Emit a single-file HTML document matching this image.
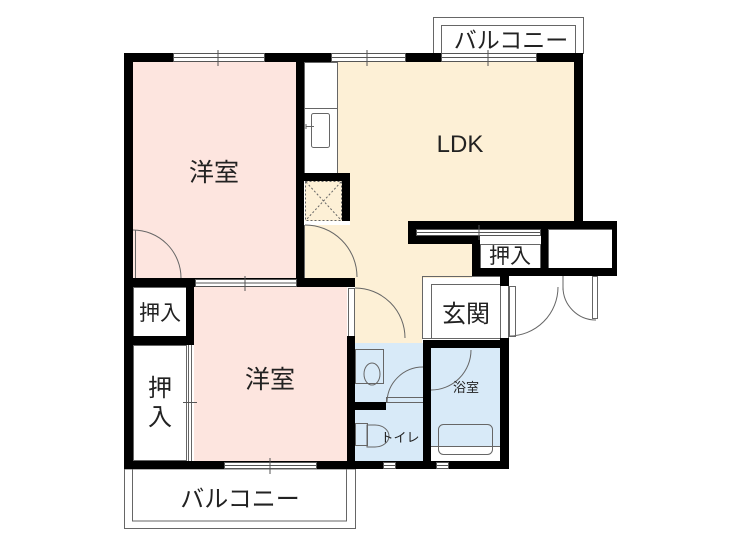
<!DOCTYPE html>
<html><head><meta charset="utf-8"><style>
body{margin:0;background:#fff}
svg{display:block}
text{font-family:"Liberation Sans","Noto Sans CJK JP",sans-serif;fill:#222}
</style></head><body>
<svg width="750" height="550" viewBox="0 0 750 550" xmlns="http://www.w3.org/2000/svg">
<polygon points="338,62 574,62 574,221 408,221 408,244 472,244 472,278 422,278 422,343 355,343 355,287 304,287 304,225 350,225 350,174 338,174" fill="#fdf0d6"/>
<rect x="133" y="62" width="163" height="216" fill="#fde5df"/>
<rect x="194" y="287" width="153" height="174" fill="#fde5df"/>
<rect x="355" y="343" width="68" height="118" fill="#d8eaf8"/>
<rect x="431" y="348" width="69" height="98" fill="#d8eaf8"/>
<rect x="305" y="181" width="37" height="40" fill="#fdf0d6"/>
<rect x="433.5" y="17.5" width="150" height="36" fill="none" stroke="#666"/>
<rect x="441.5" y="25.5" width="134" height="28" fill="none" stroke="#666"/>
<rect x="124.5" y="469" width="231" height="59.5" fill="none" stroke="#666"/>
<rect x="132.5" y="469" width="214" height="52" fill="none" stroke="#666"/>
<g fill="none" stroke="#666" stroke-width="1">
<rect x="304.5" y="62.5" width="33" height="111"/>
<line x1="304" y1="108.5" x2="338" y2="108.5"/>
<rect x="311.5" y="113.5" width="18" height="34" rx="2"/>
<path d="M306 124v5M306 126.5h8"/>
<rect x="305.5" y="181.5" width="36" height="39" stroke-dasharray="2,2"/>
<path d="M306 182l35 38M341 182l-35 38" stroke-dasharray="2,2"/>
<rect x="480.5" y="244.5" width="60" height="24"/>
<rect x="548.5" y="229.5" width="64" height="39"/>
<rect x="422.5" y="276.5" width="86" height="62"/>
<rect x="431.5" y="284.5" width="69" height="54"/>
<rect x="133.5" y="287.5" width="53" height="49"/>
<rect x="133.5" y="345.5" width="53" height="115"/>
<line x1="188.5" y1="345" x2="188.5" y2="461"/><line x1="191.5" y1="345" x2="191.5" y2="461"/>
<rect x="355.5" y="349.5" width="28" height="34"/>
<ellipse cx="372" cy="374" rx="8" ry="11"/>
<rect x="386.5" y="397.5" width="37" height="5"/>
<rect x="438.5" y="424.5" width="54" height="30" rx="5"/>
<line x1="431" y1="446.5" x2="500" y2="446.5"/>
<rect x="355.5" y="423.5" width="12" height="22"/>
<path d="M367 425h8a14 11 0 0 1 0 22h-8z"/>
<path d="M133 230 A48 48 0 0 1 181 278"/><line x1="135.5" y1="230" x2="135.5" y2="278"/>
<path d="M305 225 A52 52 0 0 1 357 277"/><rect x="297.5" y="225.5" width="7" height="52"/>
<path d="M355 288 A50 50 0 0 1 405 338"/><rect x="348.5" y="288.5" width="6" height="48"/>
<path d="M387 403 A36 36 0 0 1 423 367"/>
<path d="M471 350 A40 40 0 0 1 431 390"/><rect x="423.5" y="350.5" width="7" height="40"/>
<path d="M558 287 A49 49 0 0 1 509 336"/><rect x="509.5" y="286.5" width="6" height="50"/>
<path d="M563 287 A33 33 0 0 0 596 320"/><rect x="592.5" y="276.5" width="5" height="42"/>
<line x1="563" y1="276" x2="563" y2="290"/>
</g>
<g fill="#000">
<rect x="124" y="53" width="459" height="9"/>
<rect x="124" y="53" width="9" height="416"/>
<rect x="574" y="53" width="9" height="176"/>
<rect x="296" y="53" width="8" height="234"/>
<rect x="296" y="173" width="54" height="8"/>
<rect x="342" y="173" width="8" height="48"/>
<rect x="408" y="221" width="209" height="8"/>
<rect x="408" y="221" width="8" height="23"/>
<rect x="408" y="236" width="72" height="8"/>
<rect x="472" y="236" width="8" height="40"/>
<rect x="472" y="268" width="145" height="8"/>
<rect x="541" y="229" width="7" height="47"/>
<rect x="612" y="221" width="5" height="55"/>
<rect x="124" y="278" width="231" height="9"/>
<rect x="186" y="278" width="8" height="67"/>
<rect x="124" y="336" width="70" height="9"/>
<rect x="347" y="336" width="8" height="133"/>
<rect x="124" y="461" width="385" height="8"/>
<rect x="355" y="402" width="31" height="8"/>
<rect x="423" y="340" width="8" height="129"/>
<rect x="423" y="340" width="86" height="8"/>
<rect x="500" y="338" width="9" height="131"/>
<rect x="500" y="276" width="9" height="10"/>
</g>
<g fill="#fff" stroke="#555" stroke-width="1">
<rect x="173.5" y="53.5" width="91" height="8"/>
<rect x="331.5" y="53.5" width="74" height="8"/>
<rect x="441.5" y="53.5" width="95" height="8"/>
<rect x="195.5" y="279.5" width="101" height="7"/>
<rect x="224.5" y="462.5" width="92" height="6"/>
<rect x="416.5" y="229.5" width="124" height="6"/>
<rect x="383.5" y="462.5" width="12" height="6"/>
<rect x="436.5" y="462.5" width="12" height="6"/>
</g>
<g stroke="#555" stroke-width="1">
<line x1="173" y1="57.5" x2="264" y2="57.5"/><line x1="218" y1="50" x2="218" y2="66"/>
<line x1="331" y1="57.5" x2="405" y2="57.5"/><line x1="367" y1="50" x2="367" y2="66"/>
<line x1="441" y1="57.5" x2="536" y2="57.5"/><line x1="488" y1="50" x2="488" y2="66"/>
<line x1="195" y1="283" x2="296" y2="283"/><line x1="245" y1="276" x2="245" y2="291"/>
<line x1="224" y1="465.5" x2="316" y2="465.5"/><line x1="270" y1="458" x2="270" y2="474"/>
<line x1="416" y1="232.5" x2="540" y2="232.5"/><line x1="479" y1="225" x2="479" y2="240"/>
<line x1="183" y1="402.5" x2="197" y2="402.5"/>
<line x1="383" y1="465.5" x2="395" y2="465.5"/><line x1="436" y1="465.5" x2="448" y2="465.5"/>
</g>
<text x="214" y="181" font-size="25" text-anchor="middle">洋室</text>
<text x="460" y="152" font-size="24" text-anchor="middle">LDK</text>
<text x="270" y="388" font-size="25" text-anchor="middle">洋室</text>
<text x="511" y="48" font-size="23" text-anchor="middle">バルコニー</text>
<text x="240" y="507" font-size="24" text-anchor="middle">バルコニー</text>
<text x="510" y="263" font-size="21" text-anchor="middle">押入</text>
<text x="160" y="320" font-size="21" text-anchor="middle">押入</text>
<text x="160" y="396" font-size="24" text-anchor="middle">押</text>
<text x="160" y="425" font-size="24" text-anchor="middle">入</text>
<text x="466" y="322" font-size="24" text-anchor="middle">玄関</text>
<text x="466" y="392" font-size="13" text-anchor="middle">浴室</text>
<text x="400" y="442" font-size="13" text-anchor="middle">トイレ</text>
</svg>
</body></html>
